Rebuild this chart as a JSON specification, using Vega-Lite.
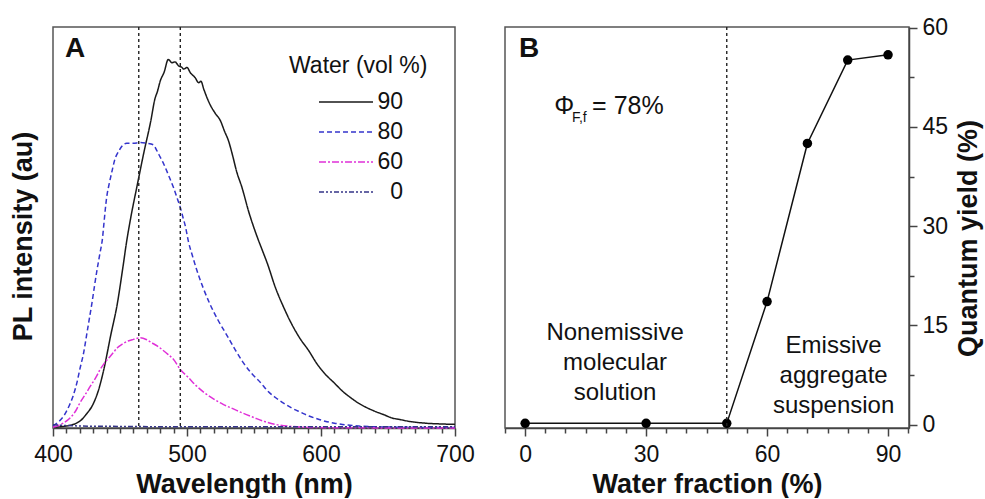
{
  "$schema": "https://vega.github.io/schema/vega-lite/v6.json",
  "padding": {"left": 8, "top": 15, "right": 4, "bottom": 0},
  "bounds": "flush",
  "spacing": 50,
  "config": {
    "font": "Liberation Sans",
    "view": {"stroke": "#555", "strokeWidth": 1.5},
    "axis": {
      "labelFont": "Liberation Sans", "titleFont": "Liberation Sans",
      "labelFontSize": 23, "titleFontSize": 27, "titleFontWeight": "bold",
      "labelColor": "#111", "titleColor": "#111", "labelFlush": false,
      "domainColor": "#444", "tickColor": "#444", "domainWidth": 1.5, "tickWidth": 1.5,
      "grid": false
    },
    "legend": {
      "orient": "none", "legendX": 236, "legendY": 28, "padding": 0,
      "titleFont": "Liberation Sans", "labelFont": "Liberation Sans",
      "titleFontSize": 23, "titleFontWeight": "normal", "titleColor": "#111",
      "labelFontSize": 23, "labelColor": "#111",
      "symbolType": "stroke", "symbolSize": 2916, "symbolStrokeWidth": 1.5,
      "symbolOffset": 29, "clipHeight": 30, "rowPadding": 0, "titlePadding": 9,
      "labelAlign": "right", "labelOffset": 29
    }
  },
  "hconcat": [
    {
      "width": 402, "height": 401,
      "resolve": {"axis": {"x": "independent", "y": "independent"}},
      "layer": [
        {
          "data": {"values": [
            {"wl":400,"I":0.2,"water":"90"},{"wl":410,"I":0.5,"water":"90"},{"wl":420,"I":1.7,"water":"90"},{"wl":425,"I":3.5,"water":"90"},{"wl":430,"I":6,"water":"90"},{"wl":434,"I":9.5,"water":"90"},{"wl":438,"I":14.7,"water":"90"},{"wl":443,"I":23,"water":"90"},{"wl":448,"I":31,"water":"90"},{"wl":452,"I":39.7,"water":"90"},{"wl":455,"I":46.6,"water":"90"},{"wl":458,"I":52.4,"water":"90"},{"wl":463,"I":60.8,"water":"90"},{"wl":468,"I":69,"water":"90"},{"wl":473,"I":76.6,"water":"90"},{"wl":476,"I":82,"water":"90"},{"wl":478,"I":84,"water":"90"},{"wl":480,"I":86.5,"water":"90"},{"wl":483,"I":88.8,"water":"90"},{"wl":486,"I":91.9,"water":"90"},{"wl":488.8,"I":91.1,"water":"90"},{"wl":491,"I":91.3,"water":"90"},{"wl":493.8,"I":90.3,"water":"90"},{"wl":496.3,"I":89.9,"water":"90"},{"wl":497.5,"I":89.5,"water":"90"},{"wl":500,"I":89.9,"water":"90"},{"wl":502.5,"I":88.6,"water":"90"},{"wl":506,"I":87.4,"water":"90"},{"wl":508.8,"I":86.1,"water":"90"},{"wl":510.4,"I":86.5,"water":"90"},{"wl":512.5,"I":84.5,"water":"90"},{"wl":517,"I":80.8,"water":"90"},{"wl":521,"I":78.5,"water":"90"},{"wl":525,"I":76.6,"water":"90"},{"wl":528,"I":74,"water":"90"},{"wl":531,"I":71.6,"water":"90"},{"wl":534,"I":68,"water":"90"},{"wl":537,"I":64,"water":"90"},{"wl":541,"I":60,"water":"90"},{"wl":546,"I":54,"water":"90"},{"wl":552,"I":48,"water":"90"},{"wl":556,"I":44.5,"water":"90"},{"wl":560,"I":41,"water":"90"},{"wl":566,"I":35,"water":"90"},{"wl":572,"I":30.2,"water":"90"},{"wl":578,"I":26,"water":"90"},{"wl":584,"I":22.5,"water":"90"},{"wl":591,"I":19.2,"water":"90"},{"wl":597,"I":16,"water":"90"},{"wl":603,"I":13.5,"water":"90"},{"wl":610,"I":11.2,"water":"90"},{"wl":616,"I":9.2,"water":"90"},{"wl":622,"I":7.6,"water":"90"},{"wl":628,"I":6.2,"water":"90"},{"wl":634,"I":5.1,"water":"90"},{"wl":640,"I":4.2,"water":"90"},{"wl":647,"I":3.3,"water":"90"},{"wl":653,"I":2.5,"water":"90"},{"wl":659,"I":2.1,"water":"90"},{"wl":665,"I":1.7,"water":"90"},{"wl":678,"I":1.2,"water":"90"},{"wl":690,"I":1,"water":"90"},{"wl":700,"I":0.9,"water":"90"},
            {"wl":400,"I":0.5,"water":"80"},{"wl":404,"I":1.5,"water":"80"},{"wl":408,"I":3,"water":"80"},{"wl":412,"I":5.5,"water":"80"},{"wl":415,"I":8,"water":"80"},{"wl":418,"I":11.5,"water":"80"},{"wl":420,"I":14.6,"water":"80"},{"wl":423,"I":19,"water":"80"},{"wl":425,"I":23,"water":"80"},{"wl":427,"I":27,"water":"80"},{"wl":429,"I":31,"water":"80"},{"wl":431,"I":35.5,"water":"80"},{"wl":433,"I":39.7,"water":"80"},{"wl":435,"I":43.5,"water":"80"},{"wl":437,"I":47.5,"water":"80"},{"wl":438,"I":51,"water":"80"},{"wl":440,"I":57.4,"water":"80"},{"wl":442,"I":61,"water":"80"},{"wl":444,"I":64,"water":"80"},{"wl":446,"I":66.8,"water":"80"},{"wl":449,"I":69,"water":"80"},{"wl":452,"I":70.5,"water":"80"},{"wl":455,"I":71,"water":"80"},{"wl":460,"I":71,"water":"80"},{"wl":465,"I":71.2,"water":"80"},{"wl":470,"I":71,"water":"80"},{"wl":475,"I":70.6,"water":"80"},{"wl":477,"I":69.5,"water":"80"},{"wl":479,"I":68.2,"water":"80"},{"wl":482,"I":66.3,"water":"80"},{"wl":484,"I":64.8,"water":"80"},{"wl":487,"I":62.4,"water":"80"},{"wl":490,"I":59.9,"water":"80"},{"wl":493,"I":57,"water":"80"},{"wl":495,"I":55,"water":"80"},{"wl":497,"I":52.5,"water":"80"},{"wl":499,"I":50,"water":"80"},{"wl":501,"I":46.6,"water":"80"},{"wl":504,"I":43,"water":"80"},{"wl":507,"I":39.7,"water":"80"},{"wl":512,"I":35,"water":"80"},{"wl":517,"I":31,"water":"80"},{"wl":523,"I":27,"water":"80"},{"wl":530,"I":23,"water":"80"},{"wl":536,"I":19.5,"water":"80"},{"wl":542,"I":16.3,"water":"80"},{"wl":548,"I":13.7,"water":"80"},{"wl":555,"I":11.3,"water":"80"},{"wl":560,"I":9.3,"water":"80"},{"wl":566,"I":7.6,"water":"80"},{"wl":572,"I":6.2,"water":"80"},{"wl":578,"I":5,"water":"80"},{"wl":585,"I":3.9,"water":"80"},{"wl":591,"I":3,"water":"80"},{"wl":597,"I":2.3,"water":"80"},{"wl":603,"I":1.7,"water":"80"},{"wl":610,"I":1.2,"water":"80"},{"wl":616,"I":0.9,"water":"80"},{"wl":628,"I":0.5,"water":"80"},{"wl":640,"I":0.3,"water":"80"},{"wl":660,"I":0.2,"water":"80"},{"wl":700,"I":0.1,"water":"80"},
            {"wl":400,"I":0.2,"water":"60"},{"wl":403,"I":0.5,"water":"60"},{"wl":408,"I":1.3,"water":"60"},{"wl":413,"I":2.6,"water":"60"},{"wl":417,"I":4.3,"water":"60"},{"wl":420,"I":6.2,"water":"60"},{"wl":424,"I":8.3,"water":"60"},{"wl":428,"I":10.5,"water":"60"},{"wl":432,"I":12.6,"water":"60"},{"wl":435,"I":14.5,"water":"60"},{"wl":438,"I":16,"water":"60"},{"wl":442,"I":17.6,"water":"60"},{"wl":445,"I":18.8,"water":"60"},{"wl":448,"I":20,"water":"60"},{"wl":452,"I":21,"water":"60"},{"wl":456,"I":21.7,"water":"60"},{"wl":460,"I":22.1,"water":"60"},{"wl":465,"I":22.5,"water":"60"},{"wl":470,"I":22,"water":"60"},{"wl":474,"I":21.2,"water":"60"},{"wl":478,"I":20.4,"water":"60"},{"wl":482,"I":19.4,"water":"60"},{"wl":486,"I":18.3,"water":"60"},{"wl":490,"I":17.1,"water":"60"},{"wl":495,"I":14.6,"water":"60"},{"wl":501,"I":12.6,"water":"60"},{"wl":507,"I":10.5,"water":"60"},{"wl":513,"I":8.8,"water":"60"},{"wl":520,"I":7.2,"water":"60"},{"wl":527,"I":5.9,"water":"60"},{"wl":535,"I":4.7,"water":"60"},{"wl":541,"I":3.8,"water":"60"},{"wl":550,"I":2.6,"water":"60"},{"wl":558,"I":1.6,"water":"60"},{"wl":566,"I":0.9,"water":"60"},{"wl":578,"I":0.4,"water":"60"},{"wl":591,"I":0.15,"water":"60"},{"wl":620,"I":0.05,"water":"60"},{"wl":700,"I":0,"water":"60"},
            {"wl":400,"I":0.8,"water":"0"},{"wl":420,"I":0.5,"water":"0"},{"wl":450,"I":0.4,"water":"0"},{"wl":500,"I":0.3,"water":"0"},{"wl":550,"I":0.3,"water":"0"},{"wl":600,"I":0.3,"water":"0"},{"wl":650,"I":0.3,"water":"0"},{"wl":700,"I":0.3,"water":"0"}
          ]},
          "mark": {"type": "line", "strokeWidth": 1.5, "interpolate": "monotone"},
          "encoding": {
            "x": {"field": "wl", "type": "quantitative",
                  "scale": {"domain": [400, 700], "nice": false, "zero": false},
                  "axis": {"values": [400, 500, 600, 700], "title": "Wavelength (nm)", "tickSize": 8, "labelPadding": 7, "titlePadding": 5, "titleX": 191, "orient": "bottom"}},
            "y": {"field": "I", "type": "quantitative",
                  "scale": {"domain": [0, 100], "nice": false},
                  "axis": {"title": "PL intensity (au)", "labels": false, "ticks": false, "domain": false, "titlePadding": 16, "titleY": 209}},
            "color": {"field": "water", "type": "nominal", "title": "Water (vol %)",
                      "scale": {"domain": ["90", "80", "60", "0"], "range": ["#1a1a1a", "#3434cc", "#e030d8", "#343488"]}},
            "strokeDash": {"field": "water", "type": "nominal", "title": "Water (vol %)",
                      "scale": {"domain": ["90", "80", "60", "0"], "range": [[1, 0], [5, 3], [7, 2, 2, 2], [5, 2, 2, 2, 2, 2]]}}
          }
        },
        {
          "data": {"values": [{"wl": 464}, {"wl": 495}]},
          "mark": {"type": "rule", "strokeDash": [3, 3], "color": "#222", "strokeWidth": 1.4},
          "encoding": {
            "x": {"field": "wl", "type": "quantitative",
                  "axis": {"orient": "bottom", "values": [410,420,430,440,450,460,470,480,490,510,520,530,540,550,560,570,580,590,610,620,630,640,650,660,670,680,690], "labels": false, "domain": false, "tickSize": 5, "title": null}}
          }
        },
        {
          "data": {"values": [{"wl": 409, "I": 94.5, "label": "A"}]},
          "mark": {"type": "text", "fontSize": 28, "fontWeight": "bold", "align": "left", "baseline": "middle", "color": "#111"},
          "encoding": {
            "x": {"field": "wl", "type": "quantitative", "axis": null},
            "y": {"field": "I", "type": "quantitative", "axis": null},
            "text": {"field": "label"}
          }
        }
      ]
    },
    {
      "width": 404, "height": 401,
      "resolve": {"axis": {"x": "independent", "y": "independent"}},
      "layer": [
        {
          "data": {"values": [
            {"frac": 0, "qy": 0.2}, {"frac": 30, "qy": 0.2}, {"frac": 50, "qy": 0.2},
            {"frac": 60, "qy": 18.6}, {"frac": 70, "qy": 42.5}, {"frac": 80, "qy": 55.1}, {"frac": 90, "qy": 55.9}
          ]},
          "mark": {"type": "line", "color": "#111", "strokeWidth": 1.5, "point": {"filled": true, "size": 90, "color": "#000"}},
          "encoding": {
            "x": {"field": "frac", "type": "quantitative",
                  "scale": {"domain": [-5, 95.2], "nice": false, "zero": false},
                  "axis": {"orient": "bottom", "values": [0, 30, 60, 90], "title": "Water fraction (%)", "tickSize": 8, "labelPadding": 7, "titlePadding": 5}},
            "y": {"field": "qy", "type": "quantitative",
                  "scale": {"domain": [-0.5, 60.1], "nice": false, "zero": false},
                  "axis": {"orient": "right", "values": [0, 15, 30, 45, 60], "title": "Quantum yield (%)", "tickSize": 8, "labelPadding": 5, "titlePadding": 8, "titleAngle": 270, "titleBaseline": "top", "titleY": 211}}
          }
        },
        {
          "data": {"values": [{"frac": 50}]},
          "mark": {"type": "rule", "strokeDash": [3, 3], "color": "#222", "strokeWidth": 1.4},
          "encoding": {
            "x": {"field": "frac", "type": "quantitative",
                  "axis": {"orient": "bottom", "values": [-5,5,10,15,20,25,35,40,45,50,55,65,70,75,80,85,95], "labels": false, "domain": false, "tickSize": 5, "title": null}}
          }
        },
        {
          "data": {"values": [{"frac": -1.5, "qy": 56.7, "label": "B"}]},
          "mark": {"type": "text", "fontSize": 28, "fontWeight": "bold", "align": "left", "baseline": "middle", "color": "#111"},
          "encoding": {
            "x": {"field": "frac", "type": "quantitative", "axis": null},
            "y": {"field": "qy", "type": "quantitative",
                  "axis": {"orient": "right", "values": [7.5, 22.5, 37.5, 52.5], "labels": false, "domain": false, "tickSize": 5, "title": null}},
            "text": {"field": "label"}
          }
        },
        {
          "data": {"values": [{"frac": 7.2, "qy": 48.2, "label": "Φ"}, {"frac": 16.6, "qy": 48.2, "label": "= 78%"}]},
          "mark": {"type": "text", "fontSize": 25, "align": "left", "baseline": "middle", "color": "#111"},
          "encoding": {
            "x": {"field": "frac", "type": "quantitative", "axis": null},
            "y": {"field": "qy", "type": "quantitative", "axis": null},
            "text": {"field": "label"}
          }
        },
        {
          "data": {"values": [{"frac": 11.6, "qy": 46.4, "label": "F,f"}]},
          "mark": {"type": "text", "fontSize": 14, "align": "left", "baseline": "middle", "color": "#111"},
          "encoding": {
            "x": {"field": "frac", "type": "quantitative", "axis": null},
            "y": {"field": "qy", "type": "quantitative", "axis": null},
            "text": {"field": "label"}
          }
        },
        {
          "data": {"values": [
            {"frac": 22.3, "qy": 13.9, "label": "Nonemissive\nmolecular\nsolution"},
            {"frac": 76.5, "qy": 11.9, "label": "Emissive\naggregate\nsuspension"}
          ]},
          "mark": {"type": "text", "fontSize": 24, "align": "center", "baseline": "middle", "lineBreak": "\n", "lineHeight": 30, "color": "#111"},
          "encoding": {
            "x": {"field": "frac", "type": "quantitative", "axis": null},
            "y": {"field": "qy", "type": "quantitative", "axis": null},
            "text": {"field": "label"}
          }
        }
      ]
    }
  ]
}
